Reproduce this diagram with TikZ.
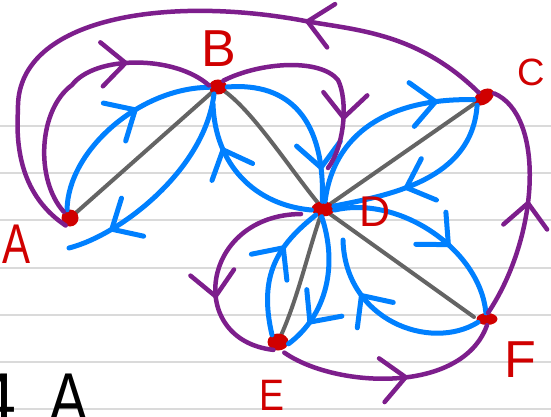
\documentclass[tikz,border=0pt]{standalone}
\usepackage{fontspec}
\setmainfont{Liberation Sans}
\usetikzlibrary{shapes.geometric,arrows.meta,decorations.markings}

\definecolor{inkblue}{RGB}{0,128,255}
\definecolor{inkpurple}{RGB}{125,30,140}
\definecolor{inkgray}{RGB}{100,100,100}
\definecolor{inkred}{RGB}{208,0,0}
\definecolor{ruling}{RGB}{218,218,218}

\tikzset{
  paperline/.style={draw=ruling, line width=1.6pt},
  vertex/.style={ellipse, fill=inkred, draw=none, inner sep=0pt},
  lbl/.style={text=inkred, inner sep=0pt, font=\fontsize{#1}{#1}\selectfont},
  note/.style={text=black, inner sep=0pt, font=\fontsize{72}{72}\selectfont},
  treeedge/.style={draw=inkgray, line width=4pt, line cap=round},
  walk/.style={draw=inkblue, line width=5pt, line cap=round, line join=round},
  tour/.style={draw=inkpurple, line width=4.5pt, line cap=round, line join=round},
  tipat/.style={postaction={decorate},
    decoration={markings, mark=at position #1 with
      {\arrow{Straight Barb[length=24pt,width=44pt,round]}}}},
}

\begin{document}
\begin{tikzpicture}[x=1pt,y=-1pt]
\useasboundingbox (0,0) rectangle (551,417);
\clip (0,0) rectangle (551,417);
\fill[white] (0,0) rectangle (551,417);

% ruled paper
\foreach \yy in {126,173,220,268,315,362,409}
  \draw[paperline] (0,\yy) -- (551,\yy);

% handwriting at the bottom edge
\node[note, anchor=base west] (four) at (-24,423) {4};
\node[note, anchor=base] (bigA) at (69,423) {\scalebox{0.8}[1]{A}};

% vertices
\coordinate (pA) at (70,218);
\coordinate (pB) at (218,87);
\coordinate (pC) at (484,97);
\coordinate (pD) at (323,209);
\coordinate (pE) at (278,342);
\coordinate (pF) at (487,319);

% spanning tree
\draw[treeedge] (pA) -- (pB);
\draw[treeedge] (pB) .. controls (250,105) and (290,170) .. (pD);
\draw[treeedge] (pC) -- (pD);
\draw[treeedge] (pD) .. controls (308,250) and (298,300) .. (pE);
\draw[treeedge] (pD) -- (474,317);

\node[vertex, minimum width=17pt, minimum height=17pt] (A) at (pA) {};
\node[vertex, minimum width=18pt, minimum height=15pt] (B) at (pB) {};
\node[vertex, minimum width=22pt, minimum height=14pt, rotate=35] (C) at (pC) {};
\node[vertex, minimum width=23pt, minimum height=15pt] (D) at (pD) {};
\node[vertex, minimum width=21pt, minimum height=17pt] (E) at (pE) {};
\node[vertex, minimum width=21pt, minimum height=12pt] (F) at (pF) {};

% loose ends of strokes
\coordinate (a1) at (69,248);
\coordinate (b1) at (213,104);
\coordinate (d2) at (343,240);
\coordinate (b2) at (328,168);
\coordinate (d1) at (301,214);

% walk around the tree (each edge twice)
\draw[walk, tipat=0.63] (A.110) .. controls (68,150) and (140,88) .. (B.182);
\draw[walk, tipat=0.8]  (B.240) .. controls (205,170) and (120,235) .. (a1);
\draw[walk, tipat=0.72] (D.185) .. controls (255,205) and (215,165) .. (b1);
\draw[walk, tipat=0.82] (B.0) .. controls (290,82) and (325,120) .. (D.95);
\draw[walk, tipat=0.82] (D.75) .. controls (335,125) and (400,98) .. (C.160);
\draw[walk, tipat=0.62] (C.195) .. controls (472,180) and (390,195) .. (D.15);
\draw[walk, tipat=0.62] (D.355) .. controls (400,195) and (480,250) .. (F.100);
\draw[walk, tipat=0.7]  (F.200) .. controls (430,352) and (345,320) .. (d2);
\draw[walk, tipat=0.68] (E.130) .. controls (258,275) and (278,245) .. (D.220);
\draw[walk, tipat=0.8]  (D.260) .. controls (338,265) and (327,315) .. (E.350);

% shortcut tour A, B, D, E, F, C, A
\draw[tour, tipat=0.7] (A.135) .. controls (35,180) and (38,110) .. (72,85)
  .. controls (95,55) and (175,55) .. (B.170);
\draw[tour, tipat=0.76] (B.50) .. controls (260,62) and (320,58) .. (338,80)
  .. controls (348,100) and (345,145) .. (b2);
\draw[tour, tipat=0.62] (d1) .. controls (200,215) and (185,340) .. (E.240);
\draw[tour, tipat=0.57, shorten <=4pt] (E.290) .. controls (335,388) and (462,395) .. (F.270);
\draw[tour, tipat=0.5] (F.80) .. controls (540,235) and (545,115) .. (C.345);
\draw[tour, tipat=0.29] (C.105) .. controls (415,30) and (350,30) .. (300,20)
  .. controls (160,-5) and (15,20) .. (18,110)
  .. controls (14,170) and (35,205) .. (A.240);

% vertex names
\node[lbl=56] (lA) at (17,244) {\scalebox{0.75}[1]{A}};
\node[lbl=52] (lB) at (219,49) {B};
\node[lbl=38] (lC) at (531,72) {C};
\node[lbl=43] (lD) at (375,212) {D};
\node[lbl=44] (lE) at (272,395) {\scalebox{0.85}[1]{E}};
\node[lbl=52] (lF) at (520,360) {F};
\end{tikzpicture}
\end{document}
